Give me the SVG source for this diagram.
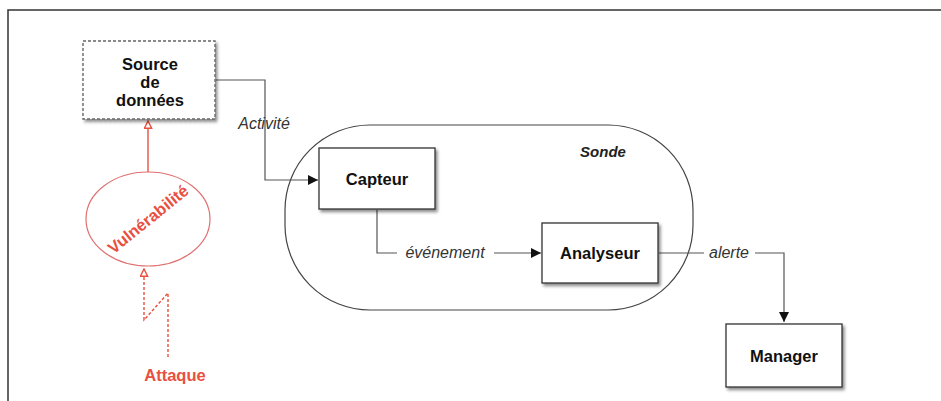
<svg xmlns="http://www.w3.org/2000/svg" width="941" height="401" viewBox="0 0 941 401">
<style>
.box{fill:#fff;stroke:#333;stroke-width:1.3}
.lbl{font-family:"Liberation Sans",Arial,sans-serif;font-weight:bold;font-size:16.5px;fill:#111;text-anchor:middle}
.it{font-family:"Liberation Sans",Arial,sans-serif;font-style:italic;font-size:16px;fill:#333;text-anchor:middle}
.conn{fill:none;stroke:#555;stroke-width:1.2}
.red{fill:none;stroke:#e8503f;stroke-width:1.4}
.redt{font-family:"Liberation Sans",Arial,sans-serif;font-weight:bold;font-size:16.5px;fill:#e8503f;text-anchor:middle}
</style>
<defs>
<filter id="sh" x="-10%" y="-10%" width="130%" height="130%">
<feDropShadow dx="2" dy="2.5" stdDeviation="1.6" flood-color="#000" flood-opacity="0.45"/>
</filter>
<marker id="ah" viewBox="0 0 10 10" refX="10" refY="5" markerWidth="12" markerHeight="10" markerUnits="userSpaceOnUse" orient="auto">
<path d="M0,0 L10,5 L0,10 z" fill="#111"/>
</marker>
<marker id="rh" viewBox="0 0 10 10" refX="9" refY="5" markerWidth="9" markerHeight="9" markerUnits="userSpaceOnUse" orient="auto">
<path d="M1,1 L9,5 L1,9 z" fill="#fff" stroke="#e8503f" stroke-width="1.6"/>
</marker>
</defs>
<rect width="941" height="401" fill="#fff"/>
<path d="M8,401 V10 H941" fill="none" stroke="#333" stroke-width="1.5"/>

<g id="sonde">
<rect x="285" y="125" width="408" height="185" rx="85" ry="85" fill="none" stroke="#444" stroke-width="1.2"/>
<text x="603" y="157" font-family="Liberation Sans,Arial,sans-serif" font-weight="bold" font-style="italic" font-size="15px" fill="#222" text-anchor="middle">Sonde</text>
</g>

<g id="connectors">
<path class="conn" d="M216,80 H265 V180 H318" marker-end="url(#ah)"/>
<path class="conn" d="M377,210 V253 H397"/>
<path class="conn" d="M494,253 H541" marker-end="url(#ah)"/>
<path class="conn" d="M659,253 H704"/>
<path class="conn" d="M755,253 H784 V322" marker-end="url(#ah)"/>
<text class="it" x="264" y="129">Activité</text>
<text class="it" x="445" y="258">événement</text>
<text class="it" x="729" y="258">alerte</text>
<path class="red" d="M148,172 V121" marker-end="url(#rh)"/>
<path class="red" d="M168,357 V293 L144,320 V269" stroke-dasharray="3,2" marker-end="url(#rh)"/>
</g>

<g id="source">
<rect x="83" y="41" width="132" height="78" fill="#fff" stroke="#666" stroke-width="1.4" stroke-dasharray="3,2" filter="url(#sh)"/>
<text class="lbl" x="150" y="70">Source</text>
<text class="lbl" x="150" y="88">de</text>
<text class="lbl" x="150" y="106">données</text>
</g>

<g id="vulnerabilite">
<ellipse cx="148" cy="219" rx="62" ry="47" fill="none" stroke="#e07070" stroke-width="1.2"/>
<text class="redt" x="148" y="225" transform="rotate(-39 148 219)">Vulnérabilité</text>
</g>

<g id="attaque">
<text class="redt" x="175" y="381">Attaque</text>
</g>

<g id="capteur">
<rect class="box" x="319" y="148" width="116" height="61" filter="url(#sh)"/>
<text class="lbl" x="377" y="185">Capteur</text>
</g>

<g id="analyseur">
<rect class="box" x="542" y="223" width="116" height="60" filter="url(#sh)"/>
<text class="lbl" x="600" y="259">Analyseur</text>
</g>

<g id="manager">
<rect class="box" x="726" y="324" width="116" height="63" filter="url(#sh)"/>
<text class="lbl" x="784" y="362">Manager</text>
</g>
</svg>
